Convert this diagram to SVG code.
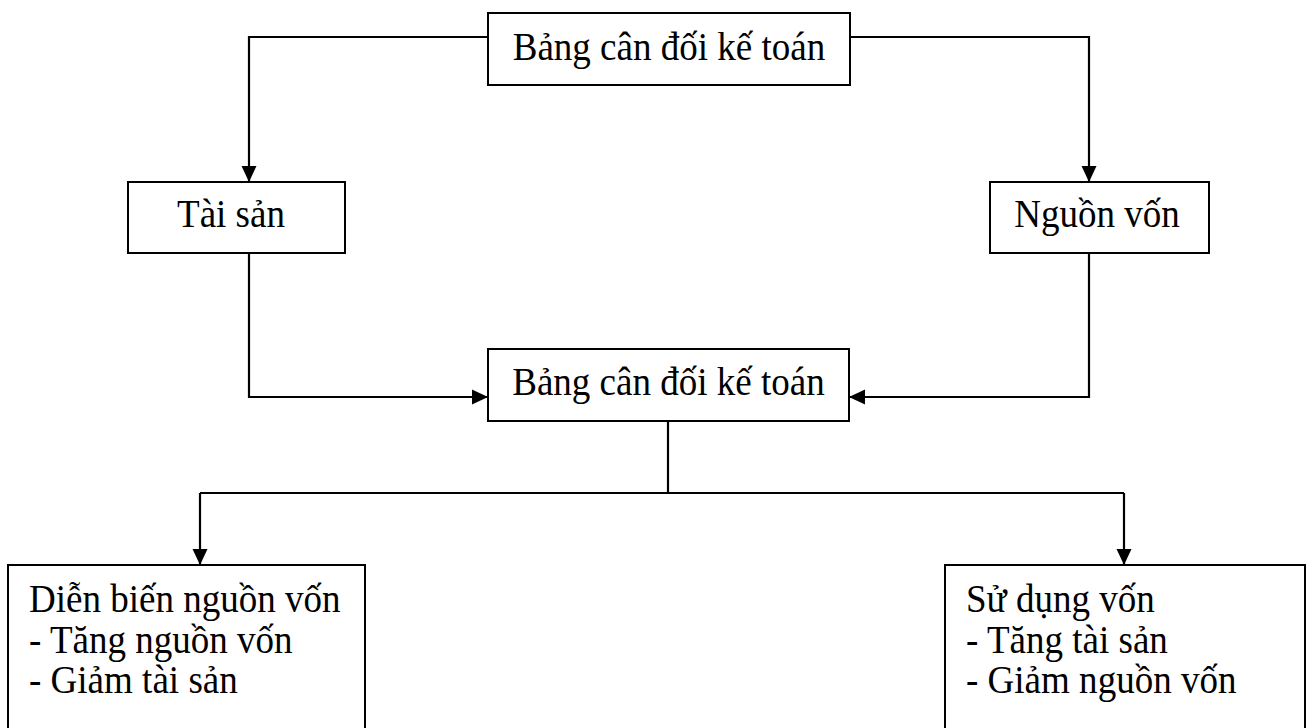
<svg xmlns="http://www.w3.org/2000/svg" width="1311" height="728" viewBox="0 0 1311 728">
<defs>
<style>
.box{fill:#fff;stroke:#000;stroke-width:2}
.t{font-family:"Liberation Serif","Times New Roman",serif;font-size:39px;fill:#000}
.m{text-anchor:middle}
.c{fill:none;stroke:#000;stroke-width:2.2}
</style>
<marker id="ah" markerWidth="16" markerHeight="16" viewBox="0 0 16 16" refX="15" refY="8" orient="auto" markerUnits="userSpaceOnUse">
<path d="M0,0.5 L16,8 L0,15.5 Z" fill="#000"/>
</marker>
</defs>
<rect width="1311" height="728" fill="#fff"/>
<g id="connectors">
<path class="c" d="M488,37 H249 V181" marker-end="url(#ah)"/>
<path class="c" d="M850,37 H1089 V181" marker-end="url(#ah)"/>
<path class="c" d="M249,253 V397 H487" marker-end="url(#ah)"/>
<path class="c" d="M1089,253 V397 H850" marker-end="url(#ah)"/>
<path class="c" d="M668,421 V493"/>
<path class="c" d="M200,493 H1124"/>
<path class="c" d="M200,493 V564" marker-end="url(#ah)"/>
<path class="c" d="M1124,493 V564" marker-end="url(#ah)"/>
</g>
<g id="n-top">
<rect class="box" x="488" y="13" width="362" height="72"/>
<text class="t m" transform="translate(669,60) scale(0.95,1)">Bảng cân đối kế toán</text>
</g>
<g id="n-taisan">
<rect class="box" x="128" y="182" width="217" height="71"/>
<text class="t m" transform="translate(231,227) scale(0.95,1)">Tài sản</text>
</g>
<g id="n-nguonvon">
<rect class="box" x="990" y="182" width="219" height="71"/>
<text class="t m" transform="translate(1097,227) scale(0.95,1)">Nguồn vốn</text>
</g>
<g id="n-mid">
<rect class="box" x="488" y="349" width="361" height="72"/>
<text class="t m" transform="translate(668.5,395) scale(0.95,1)">Bảng cân đối kế toán</text>
</g>
<g id="n-dienbien">
<rect class="box" x="8" y="565" width="357" height="175"/>
<g transform="translate(29,0) scale(0.95,1)">
<text class="t" x="0" y="612">Diễn biến nguồn vốn</text>
<text class="t" x="0" y="653">- Tăng nguồn vốn</text>
<text class="t" x="0" y="693">- Giảm tài sản</text>
</g>
</g>
<g id="n-sudung">
<rect class="box" x="945" y="565" width="360" height="175"/>
<g transform="translate(966,0) scale(0.95,1)">
<text class="t" x="0" y="612">Sử dụng vốn</text>
<text class="t" x="0" y="653">- Tăng tài sản</text>
<text class="t" x="0" y="693">- Giảm nguồn vốn</text>
</g>
</g>
</svg>
